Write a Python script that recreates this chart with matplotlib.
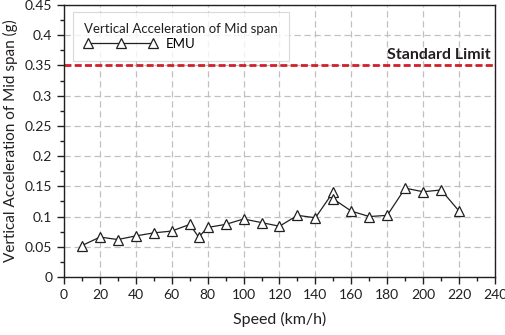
from matplotlib import pyplot as plt
from matplotlib.ticker import MultipleLocator

plt.rcParams['font.family'] = ['Lato', 'DejaVu Sans']

speed = [10, 20, 30, 40, 50, 60, 70, 75, 80, 90, 100, 110, 120, 130, 140,
         150, 150, 160, 170, 180, 190, 200, 210, 220]
accel = [0.052, 0.066, 0.062, 0.068, 0.073, 0.076, 0.087, 0.066, 0.082, 0.087,
         0.096, 0.090, 0.084, 0.102, 0.098, 0.141, 0.129, 0.109, 0.100, 0.102,
         0.147, 0.141, 0.144, 0.109]
limit = 0.35


def main():
	fig = plt.figure(figsize=(5.06, 3.35), dpi=100)
	ax = fig.add_axes([64/506, 1-277/335, 431/506, 272/335])

	ax.plot(speed, accel, color='#231f20', lw=0.9, marker='^', ms=7,
			mfc='white', mec='#231f20', mew=0.9, label='EMU', zorder=3)
	ax.axhline(limit, color='#d0202a', lw=2, ls=(0, (2.5, 1.2)), zorder=2)
	ax.text(237.5, 0.356, 'Standard Limit', ha='right', va='bottom',
			fontsize=11.5, fontweight='bold', color='#231f20')

	ax.set_xlim(0, 240)
	ax.set_ylim(0, 0.45)
	ax.xaxis.set_major_locator(MultipleLocator(20))
	ax.xaxis.set_minor_locator(MultipleLocator(10))
	ax.yaxis.set_minor_locator(MultipleLocator(0.025))
	ax.set_yticks([0, 0.05, 0.1, 0.15, 0.2, 0.25, 0.3, 0.35, 0.4, 0.45])
	ax.set_yticklabels(['0', '0.05', '0.1', '0.15', '0.2', '0.25', '0.3',
						'0.35', '0.4', '0.45'])
	ax.tick_params(which='major', direction='out', length=5, width=1,
				   labelsize=10, colors='#231f20')
	ax.tick_params(which='minor', direction='out', length=3, width=1,
				   colors='#231f20')
	ax.grid(True, which='major', color='#c0c0c0', ls=(0, (5, 3)), lw=0.9)
	ax.set_axisbelow(True)
	for s in ax.spines.values():
		s.set_linewidth(1)
		s.set_color('#231f20')

	ax.set_xlabel('Speed (km/h)', fontsize=11.5, color='#231f20', labelpad=8)
	ax.set_ylabel('Vertical Acceleration of Mid span (g)', fontsize=11,
				  color='#231f20', labelpad=5)

	leg = ax.legend(loc='upper left', title='Vertical Acceleration of Mid span',
					fontsize=9.5, title_fontsize=9.5, fancybox=False,
					bbox_to_anchor=(0.021, 0.974), borderpad=0.85, numpoints=3,
					handlelength=5.5, handletextpad=0.7, labelspacing=0.2,
					borderaxespad=0)
	leg.get_frame().set_edgecolor('#d0d0d0')
	leg.get_frame().set_linewidth(0.8)
	leg.get_title().set_color('#231f20')
	leg._legend_box.align = 'left'

	fig.savefig('out.png', dpi=100)


if __name__ == '__main__':
	main()
